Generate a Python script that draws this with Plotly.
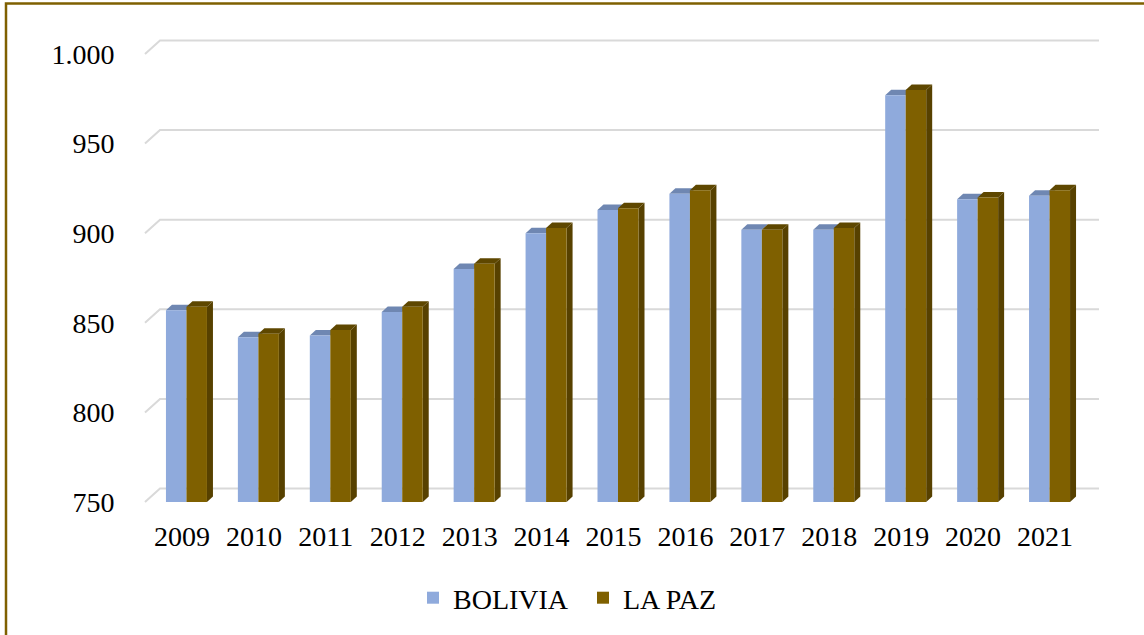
import plotly.graph_objects as go

years = ["2009", "2010", "2011", "2012", "2013", "2014", "2015",
         "2016", "2017", "2018", "2019", "2020", "2021"]
bolivia = [854, 839, 840, 853, 877, 897, 910, 919, 899, 899, 974, 916, 918]
la_paz = [856, 841, 843, 856, 880, 900, 911, 921, 899, 900, 977, 917, 921]
y_ticks = [750, 800, 850, 900, 950, 1000]
y_labels = ["750", "800", "850", "900", "950", "1.000"]

W, H = 1144, 635
ML, MR, MT, MB = 146, 63, 54, 133
PW, PH = W - ML - MR, H - MT - MB
YMIN, YMAX = 750, 1000
XMIN, XMAX = -0.5, len(years) - 0.5
px_per_cat = PW / (XMAX - XMIN)
px_per_unit = PH / (YMAX - YMIN)

C_BOL = "#8FAADC"
C_BOL_TOP = "#6F87B2"
C_LP = "#7F6000"
C_LP_TOP = "#5E4700"
C_LP_SIDE = "#574100"
BORDER = "#7F6000"
GRID = "#D9D9D9"
FONT = "Liberation Serif, Times New Roman, serif"
FS = 28

def xpaper(px):
    return (px - ML) / PW

def ypaper(py):
    return (H - MB - py) / PH

bw = 20.5 / px_per_cat
off_b = -16 / px_per_cat
off_l = off_b + bw
dxu = 6 / px_per_cat
dyu = 5.5 / px_per_unit
y_shift = 5.3 / px_per_unit
x = list(range(len(years)))

fig = go.Figure()
fig.add_trace(go.Bar(x=x, y=bolivia, name="BOLIVIA", marker=dict(color=C_BOL, line=dict(width=0)),
                     offset=off_b, width=bw))
fig.add_trace(go.Bar(x=x, y=la_paz, name="LA PAZ", marker=dict(color=C_LP, line=dict(width=0)),
                     offset=off_l, width=bw))
# front-plane value axis (labels only)
fig.add_trace(go.Scatter(x=[x[0]], y=[YMIN], yaxis="y2", mode="markers",
                         marker=dict(opacity=0), showlegend=False, hoverinfo="skip"))

shapes = []
shapes.append(dict(type="path", xref="paper", yref="paper",
                   path=f"M{xpaper(6)},{ypaper(700)} L{xpaper(6)},{ypaper(3.5)} L{xpaper(1160)},{ypaper(3.5)}",
                   line=dict(color=BORDER, width=2.5), layer="below"))
gdx, gdy = 15, 13.5
for v in y_ticks:
    yf = (v - YMIN) / (YMAX - YMIN)
    yb = yf + gdy / PH
    shapes.append(dict(type="path", xref="paper", yref="paper",
                       path=f"M{xpaper(145)},{yf} L{xpaper(145 + gdx)},{yb} L{xpaper(1099)},{yb}",
                       line=dict(color=GRID, width=2), layer="below"))
for i in range(len(years)):
    vb, vl = bolivia[i], la_paz[i]
    x0 = i + off_b
    x1 = x0 + bw
    shapes.append(dict(type="path", xref="x", yref="y", layer="below", line=dict(width=0),
                       fillcolor=C_BOL_TOP,
                       path=f"M{x0},{vb} L{x1},{vb} L{x1 + dxu},{vb + dyu} L{x0 + dxu},{vb + dyu} Z"))
    lx0 = i + off_l
    lx1 = lx0 + bw
    shapes.append(dict(type="path", xref="x", yref="y", layer="below", line=dict(width=0),
                       fillcolor=C_LP_TOP,
                       path=f"M{lx0},{vl} L{lx1},{vl} L{lx1 + dxu},{vl + dyu} L{lx0 + dxu},{vl + dyu} Z"))
    shapes.append(dict(type="path", xref="x", yref="y", layer="below", line=dict(width=0),
                       fillcolor=C_LP_SIDE,
                       path=f"M{lx1},{YMIN - y_shift} L{lx1},{vl} L{lx1 + dxu},{vl + dyu} L{lx1 + dxu},{YMIN - y_shift + dyu} Z"))

fig.update_layout(
    width=W, height=H,
    margin=dict(l=ML, r=MR, t=MT, b=MB),
    paper_bgcolor="white", plot_bgcolor="rgba(0,0,0,0)",
    barmode="overlay",
    font=dict(family=FONT, size=FS, color="black"),
    xaxis=dict(range=[XMIN, XMAX], tickvals=x, ticktext=years, showgrid=False, zeroline=False,
               showline=False, ticks="outside", ticklen=9, tickcolor="rgba(0,0,0,0)",
               tickfont=dict(family=FONT, size=FS, color="black")),
    yaxis=dict(range=[YMIN - y_shift, YMAX - y_shift], showticklabels=False, showgrid=False,
               zeroline=False, showline=False, ticks=""),
    yaxis2=dict(range=[YMIN, YMAX], overlaying="y", side="left", anchor="x",
                tickmode="array", tickvals=y_ticks, ticktext=y_labels,
                showticklabels=True, showgrid=False, zeroline=False,
                showline=False, ticks="outside", ticklen=25, tickcolor="rgba(0,0,0,0)",
                tickfont=dict(family=FONT, size=FS, color="black")),
    legend=dict(orientation="h", x=xpaper(413), xanchor="left", y=ypaper(598), yanchor="middle",
                entrywidth=125, entrywidthmode="pixels",
                font=dict(family=FONT, size=FS, color="black"), bgcolor="rgba(0,0,0,0)",
                traceorder="normal"),
    showlegend=True,
    shapes=shapes,
)

fig.write_html("out.html", post_script="document.body.style.margin='0';",
               config={"displayModeBar": False})
